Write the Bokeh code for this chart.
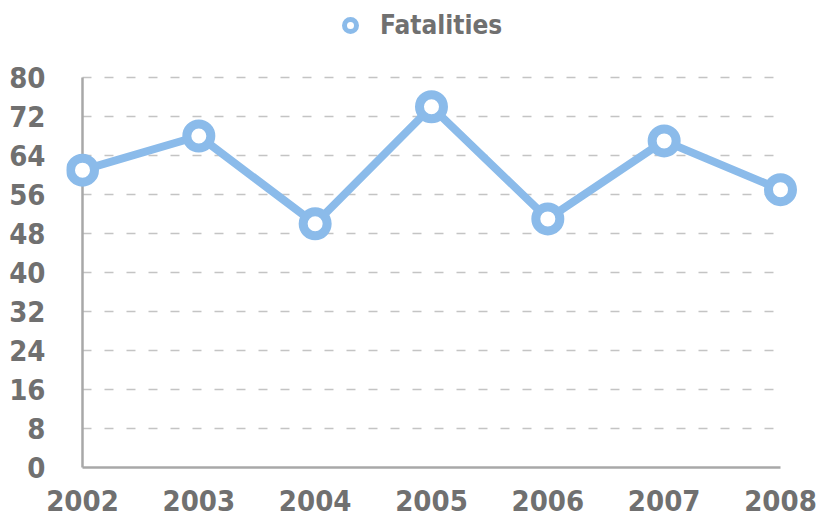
from bokeh.plotting import figure
from bokeh.models import FixedTicker, Range1d, Legend, LegendItem
from bokeh.embed import file_html
from bokeh.resources import INLINE

years = [2002, 2003, 2004, 2005, 2006, 2007, 2008]
fatalities = [61, 68, 50, 74, 51, 67, 57]
y_ticks = [0, 8, 16, 24, 32, 40, 48, 56, 64, 72, 80]
series_name = "Fatalities"

BLUE = "#8bbbea"
TEXT = "#707070"
FONT = "DejaVu Sans Condensed"

p = figure(width=821, height=520, output_backend="svg", toolbar_location=None,
           x_range=Range1d(2001.8625, 2008.215), y_range=Range1d(-0.615, 95.8),
           min_border_left=66, min_border_right=16, min_border_top=0, min_border_bottom=50)
p.outline_line_color = None
p.background_fill_color = "white"
p.xgrid.visible = False
p.ygrid.visible = False

for ax in (p.xaxis[0], p.yaxis[0]):
    ax.axis_line_color = None
    ax.major_tick_line_color = None
    ax.minor_tick_line_color = None
    ax.major_label_text_font = FONT
    ax.major_label_text_font_style = "bold"
    ax.major_label_text_font_size = "29px"
    ax.major_label_text_color = TEXT

p.xaxis[0].ticker = FixedTicker(ticks=years)
p.yaxis[0].ticker = FixedTicker(ticks=y_ticks)
p.xaxis[0].major_label_standoff = 13
p.yaxis[0].major_label_standoff = 15

# dashed gridlines
grid_y = y_ticks[1:]
p.segment(x0=[years[0]] * len(grid_y), x1=[years[-1] - 0.06] * len(grid_y),
          y0=grid_y, y1=grid_y, line_color="#c4c4c4", line_width=1.5,
          line_dash="9 13")

# axis lines
p.segment(x0=[years[0], years[0]], x1=[years[0], years[-1]],
          y0=[y_ticks[0], y_ticks[0]], y1=[y_ticks[-1], y_ticks[0]],
          line_color="#a8a8a8", line_width=2.5)

p.line(years, fatalities, line_color=BLUE, line_width=8, line_join="round")
# legend-only renderer, drawn beneath the visible markers
leg_r = p.scatter(years, fatalities, size=0, fill_color="white", line_color=BLUE, line_width=5)
p.scatter(years, fatalities, size=24, fill_color="white", line_color=BLUE, line_width=9)

legend = Legend(items=[LegendItem(label=series_name, renderers=[leg_r])],
                location=(269, 430), orientation="horizontal",
                padding=0, margin=0, border_line_color=None,
                background_fill_alpha=0, glyph_width=30, glyph_height=30,
                label_standoff=15, label_text_font=FONT,
                label_text_font_style="bold", label_text_font_size="26px",
                label_text_color=TEXT)
p.add_layout(legend)

open("out.html", "w").write(file_html(p, INLINE))
